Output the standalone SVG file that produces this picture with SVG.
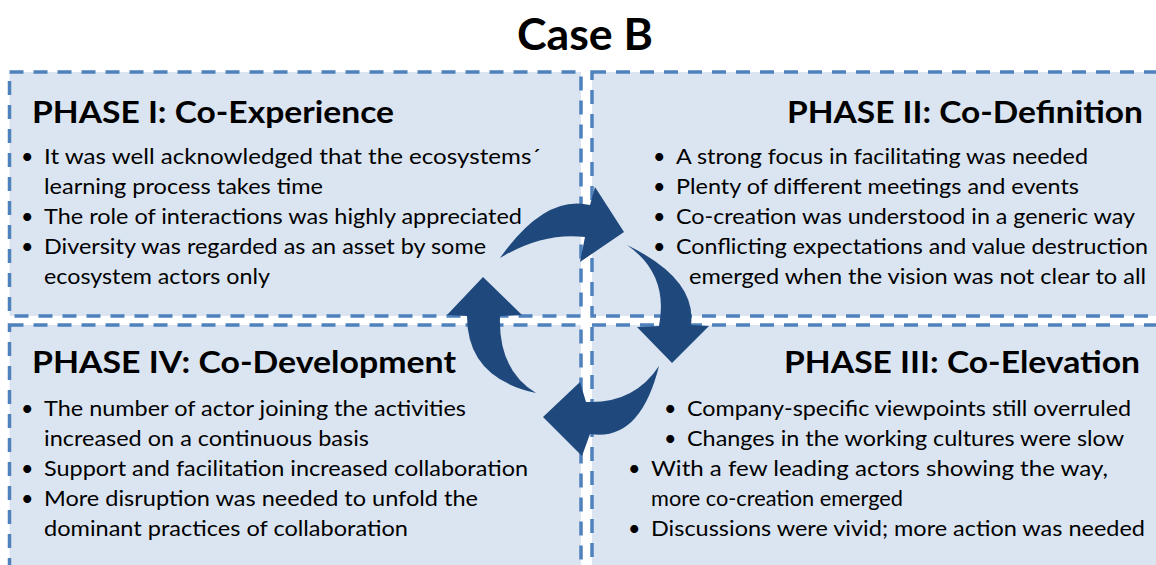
<svg xmlns="http://www.w3.org/2000/svg" width="1156" height="565" viewBox="0 0 1156 565">
<style>
.box{fill:#dbe5f1;stroke:#4f81bd;stroke-width:3.5;stroke-dasharray:14 10}
.t{font-family:Lato,"Open Sans","Liberation Sans",sans-serif;font-size:21.5px;fill:#000}
.h{font-family:Lato,"Open Sans","Liberation Sans",sans-serif;font-size:30px;font-weight:bold;fill:#000}
.title{font-family:Lato,"Open Sans","Liberation Sans",sans-serif;font-size:44px;font-weight:bold;fill:#000}
.arr{fill:#1f497d}
</style>
<rect x="0" y="0" width="1156" height="565" fill="#fff"/>
<g id="title"><text class="title" x="585" y="50" text-anchor="middle" textLength="136" lengthAdjust="spacingAndGlyphs">Case B</text></g>
<g id="phase1">
<rect class="box" x="9.5" y="72" width="571.5" height="244"/>
<text class="h" x="32" y="123" textLength="362" lengthAdjust="spacingAndGlyphs">PHASE I: Co-Experience</text>
<text class="t" x="21" y="164">•</text><text class="t" x="44" y="164" textLength="497" lengthAdjust="spacingAndGlyphs">It was well acknowledged that the ecosystems´</text>
<text class="t" x="44" y="194" textLength="279" lengthAdjust="spacingAndGlyphs">learning process takes time</text>
<text class="t" x="21" y="224">•</text><text class="t" x="44" y="224" textLength="478" lengthAdjust="spacingAndGlyphs">The role of interactions was highly appreciated</text>
<text class="t" x="21" y="254">•</text><text class="t" x="44" y="254" textLength="442" lengthAdjust="spacingAndGlyphs">Diversity was regarded as an asset by some</text>
<text class="t" x="44" y="284" textLength="226" lengthAdjust="spacingAndGlyphs">ecosystem actors only</text>
</g>
<g id="phase2">
<rect class="box" x="592" y="72" width="600" height="244"/>
<text class="h" x="787" y="123" textLength="356" lengthAdjust="spacingAndGlyphs">PHASE II: Co-Definition</text>
<text class="t" x="653" y="164">•</text><text class="t" x="676" y="164" textLength="412" lengthAdjust="spacingAndGlyphs">A strong focus in facilitating was needed</text>
<text class="t" x="653" y="194">•</text><text class="t" x="676" y="194" textLength="403" lengthAdjust="spacingAndGlyphs">Plenty of different meetings and events</text>
<text class="t" x="653" y="224">•</text><text class="t" x="676" y="224" textLength="459" lengthAdjust="spacingAndGlyphs">Co-creation was understood in a generic way</text>
<text class="t" x="653" y="254">•</text><text class="t" x="676" y="254" textLength="472" lengthAdjust="spacingAndGlyphs">Conflicting expectations and value destruction</text>
<text class="t" x="689" y="284" textLength="457" lengthAdjust="spacingAndGlyphs">emerged when the vision was not clear to all</text>
</g>
<g id="phase4">
<rect class="box" x="9.5" y="325" width="571.5" height="260"/>
<text class="h" x="32" y="373" textLength="424" lengthAdjust="spacingAndGlyphs">PHASE IV: Co-Development</text>
<text class="t" x="21" y="416">•</text><text class="t" x="44" y="416" textLength="422" lengthAdjust="spacingAndGlyphs">The number of actor joining the activities</text>
<text class="t" x="44" y="446" textLength="325" lengthAdjust="spacingAndGlyphs">increased on a continuous basis</text>
<text class="t" x="21" y="476">•</text><text class="t" x="44" y="476" textLength="484" lengthAdjust="spacingAndGlyphs">Support and facilitation increased collaboration</text>
<text class="t" x="21" y="506">•</text><text class="t" x="44" y="506" textLength="434" lengthAdjust="spacingAndGlyphs">More disruption was needed to unfold the</text>
<text class="t" x="44" y="536" textLength="364" lengthAdjust="spacingAndGlyphs">dominant practices of collaboration</text>
</g>
<g id="phase3">
<rect class="box" x="592" y="325" width="600" height="260"/>
<text class="h" x="784" y="373" textLength="356" lengthAdjust="spacingAndGlyphs">PHASE III: Co-Elevation</text>
<text class="t" x="664" y="416">•</text><text class="t" x="687" y="416" textLength="444" lengthAdjust="spacingAndGlyphs">Company-specific viewpoints still overruled</text>
<text class="t" x="664" y="446">•</text><text class="t" x="687" y="446" textLength="437" lengthAdjust="spacingAndGlyphs">Changes in the working cultures were slow</text>
<text class="t" x="628" y="476">•</text><text class="t" x="651" y="476" textLength="457" lengthAdjust="spacingAndGlyphs">With a few leading actors showing the way,</text>
<text class="t" x="651" y="506" textLength="252" lengthAdjust="spacingAndGlyphs">more co-creation emerged</text>
<text class="t" x="628" y="536">•</text><text class="t" x="651" y="536" textLength="494" lengthAdjust="spacingAndGlyphs">Discussions were vivid; more action was needed</text>
</g>
<g id="connectors">
<path class="arr" d="M500,258 Q545,194 590,205 L595,187 L624,232 L580,262 L585,237 Q543,232 500,258 Z"/>
<path class="arr" d="M627,245 Q697,279 691,325 L709,326 L672,363 L637,327 L659,326 Q669,274 627,245 Z"/>
<path class="arr" d="M659,366 Q640,442 590,434 L582,456 L543,417 L580,382 L586,402 Q634,404 659,366 Z"/>
<path class="arr" d="M536,393 Q467,378 467,316 L447,315 L483,277 L522,315 L500,316 Q498,370 536,393 Z"/>
</g>
</svg>
